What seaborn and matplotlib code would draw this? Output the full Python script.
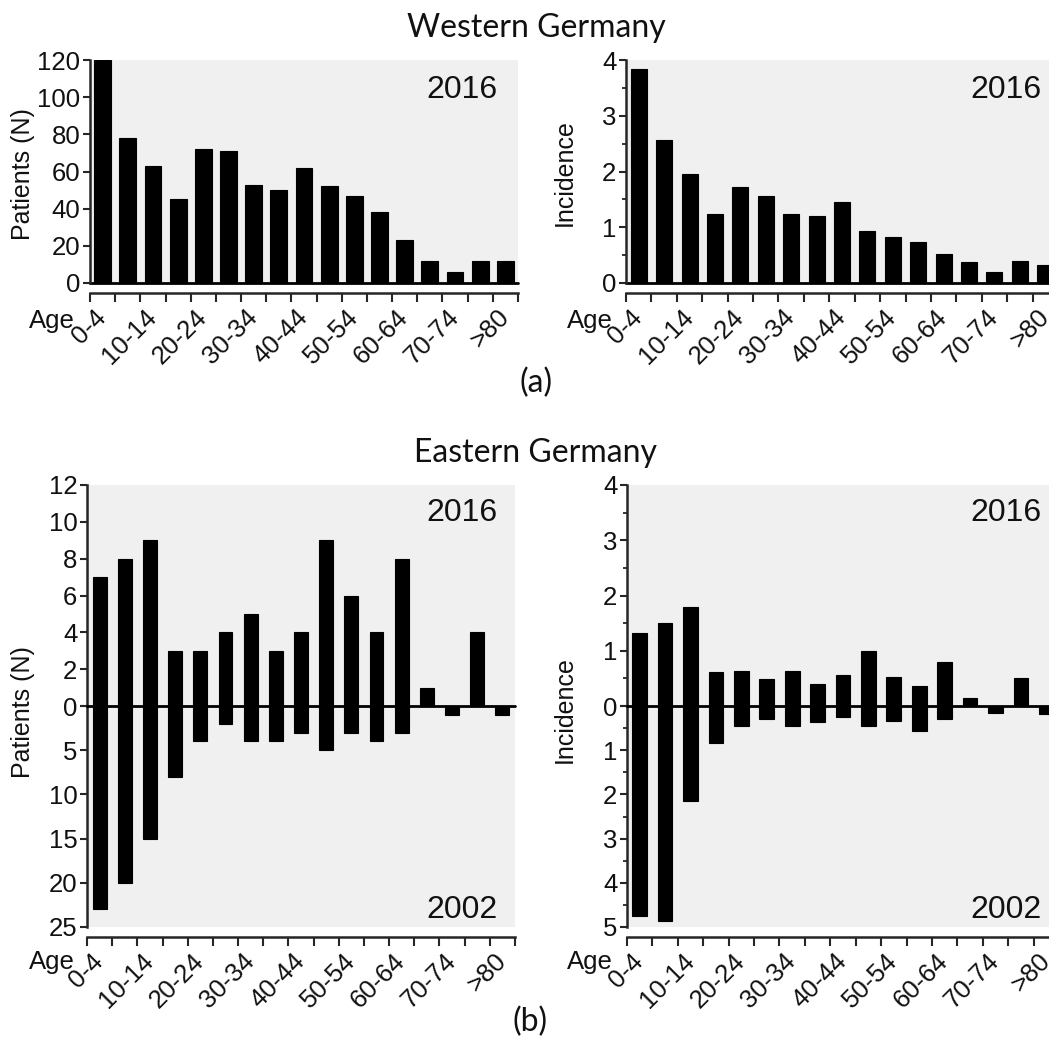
import numpy as np
import matplotlib
matplotlib.use('Agg')
import matplotlib.pyplot as plt
import seaborn as sns

ages = ['0-4', '5-9', '10-14', '15-19', '20-24', '25-29', '30-34', '35-39', '40-44',
        '45-49', '50-54', '55-59', '60-64', '65-69', '70-74', '75-79', '>80']

west_patients_2016 = [120, 78, 63, 45, 72, 71, 53, 50, 62, 52, 47, 38, 23, 12, 6, 12, 12]
west_incidence_2016 = [3.83, 2.56, 1.96, 1.23, 1.72, 1.56, 1.23, 1.21, 1.45, 0.93, 0.82,
                       0.74, 0.52, 0.37, 0.20, 0.39, 0.33]

east_patients_2016 = [7, 8, 9, 3, 3, 4, 5, 3, 4, 9, 6, 4, 8, 1, 0, 4, 0]
east_patients_2002 = [23, 20, 15, 8, 4, 2, 4, 4, 3, 5, 3, 4, 3, 0, 1, 0, 1]
east_incidence_2016 = [1.32, 1.51, 1.79, 0.61, 0.64, 0.48, 0.64, 0.39, 0.56, 1.00, 0.53,
                       0.37, 0.80, 0.15, 0.0, 0.50, 0.0]
east_incidence_2002 = [4.74, 4.87, 2.14, 0.83, 0.46, 0.30, 0.46, 0.36, 0.26, 0.46, 0.33,
                       0.57, 0.30, 0.0, 0.16, 0.0, 0.19]

W, H = 1049, 1041
sns.set_style('ticks')
plt.rcParams['font.family'] = ['Liberation Sans', 'DejaVu Sans']
TXT = '#111111'
BG = '#f0f0f0'
FS = 18.5

fig = plt.figure(figsize=(W / 100, H / 100), dpi=100)


def rect(x0, x1, ytop, ybot):
    return [x0 / W, 1 - ybot / H, (x1 - x0) / W, (ybot - ytop) / H]


def fx(px):
    return px / W


def fy(py):
    return 1 - py / H


def bars(ax, vals, width):
    sns.barplot(x=ages, y=vals, color='black', saturation=1, width=width,
                edgecolor='black', linewidth=0.8, ax=ax)
    ax.set_facecolor(BG)
    ax.set_xlabel('')
    ax.set_ylabel('')
    ax.set_xlim(-0.5, len(ages) - 0.5)
    for s in ['top', 'right']:
        ax.spines[s].set_visible(False)
    ax.spines['left'].set_linewidth(1.8)
    ax.tick_params(axis='y', which='major', length=5, width=1.5, direction='out',
                   labelsize=FS, labelcolor=TXT, pad=2)
    ax.tick_params(axis='y', which='minor', length=3, width=1.3, direction='out')


def age_axis(ax):
    n = len(ages)
    ax.spines['bottom'].set_visible(True)
    ax.spines['bottom'].set_position(('outward', 7))
    ax.spines['bottom'].set_linewidth(1.8)
    ax.set_xticks(np.arange(-0.5, n, 1))
    ax.set_xticklabels([])
    ax.set_xticks(np.arange(0, n, 2), minor=True)
    ax.set_xticklabels(ages[::2], minor=True, rotation=45, ha='right',
                       va='center', rotation_mode='anchor', fontsize=FS, color=TXT)
    ax.tick_params(axis='x', which='major', length=6.5, width=1.5, direction='out')
    ax.tick_params(axis='x', which='minor', length=0, pad=15)
    ax.set_xlim(-0.5, n - 0.5)


# ---- Western Germany ----
ax1 = fig.add_axes(rect(90, 518, 60, 283))
bars(ax1, west_patients_2016, 0.67)
ax1.set_ylim(0, 120)
ax1.set_yticks(range(0, 121, 20))
ax1.axhline(0, color='black', lw=2, clip_on=False)
age_axis(ax1)

ax2 = fig.add_axes(rect(626, 1058, 60, 283))
bars(ax2, west_incidence_2016, 0.63)
ax2.set_ylim(0, 4)
ax2.set_yticks(range(0, 5))
ax2.set_yticks(np.arange(0.5, 4, 1), minor=True)
ax2.axhline(0, color='black', lw=2, clip_on=False)
age_axis(ax2)

# ---- Eastern Germany (2016 up, 2002 down) ----
def split_panel(x0, x1, up, down, up_max, down_max, up_ticks, down_ticks, width, minor=None):
    top = fig.add_axes(rect(x0, x1, 485, 706))
    bot = fig.add_axes(rect(x0, x1, 706, 927))
    bars(top, up, width)
    bars(bot, down, width)
    top.set_ylim(0, up_max)
    bot.set_ylim(down_max, 0)
    top.set_yticks(up_ticks)
    bot.set_yticks(down_ticks)
    if minor is not None:
        top.set_yticks(np.arange(minor, up_max, 2 * minor), minor=True)
        bot.set_yticks(np.arange(minor, down_max, 2 * minor), minor=True)
    top.spines['bottom'].set_visible(False)
    top.set_xticks([])
    bot.axhline(0, color='black', lw=2, clip_on=False, zorder=5)
    bot.yaxis.get_major_ticks()[0].label1.set_visible(False)
    age_axis(bot)
    return top, bot


split_panel(87, 515, east_patients_2016, east_patients_2002, 12, 25,
            range(0, 13, 2), range(0, 26, 5), 0.55)
split_panel(627, 1059, east_incidence_2016, east_incidence_2002, 4, 5,
            range(0, 5), range(0, 6), 0.58, minor=0.5)

# ---- labels ----
for x, y in [(23, 174), (23, 712)]:
    fig.text(fx(x), fy(y), 'Patients (N)', rotation=90, ha='center', va='center',
             fontsize=18, color=TXT)
for x, y in [(565, 173), (565, 710)]:
    fig.text(fx(x), fy(y), 'Incidence', rotation=90, ha='center', va='center',
             fontsize=18, color=TXT)
for x, y in [(52, 321), (590, 321), (52, 962), (590, 962)]:
    fig.text(fx(x), fy(y), 'Age', ha='center', va='center', fontsize=FS, color=TXT)
for x, y, t in [(498, 90, '2016'), (1042, 90, '2016'), (498, 513, '2016'),
                (1042, 513, '2016'), (498, 910, '2002'), (1042, 910, '2002')]:
    fig.text(fx(x), fy(y), t, ha='right', va='center', fontsize=23, color=TXT)

title_font = ['Lato', 'DejaVu Sans']
fig.text(fx(536), fy(28), 'Western Germany', ha='center', va='center',
         fontsize=23, family=title_font, color=TXT)
fig.text(fx(536), fy(453), 'Eastern Germany', ha='center', va='center',
         fontsize=23, family=title_font, color=TXT)
fig.text(fx(536), fy(383), '(a)', ha='center', va='center', fontsize=23,
         family=title_font, color=TXT)
fig.text(fx(530), fy(1022), '(b)', ha='center', va='center', fontsize=23,
         family=title_font, color=TXT)

fig.savefig('out.png', dpi=100)
